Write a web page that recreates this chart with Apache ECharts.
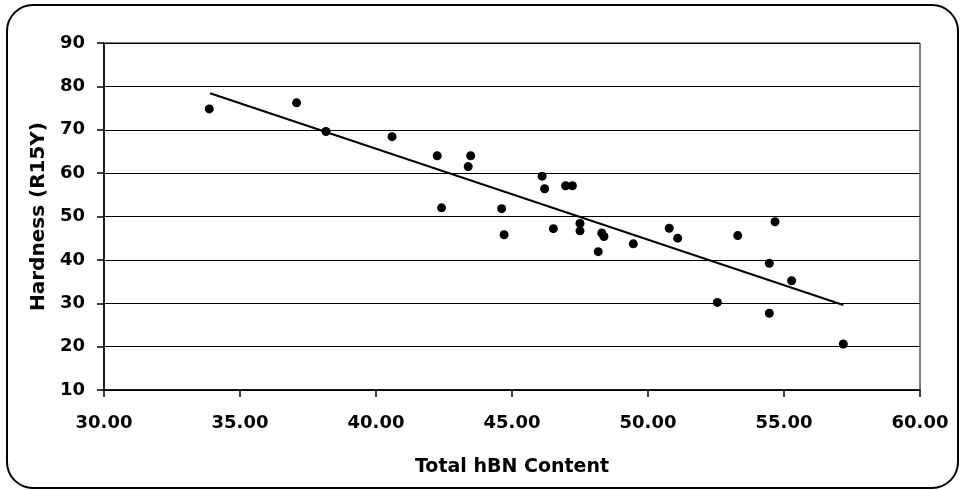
<!DOCTYPE html>
<html>
<head>
<meta charset="utf-8">
<script src="https://cdn.jsdelivr.net/npm/echarts@6/dist/echarts.min.js"></script>
<style>
  html, body { margin: 0; padding: 0; background: #fff; }
  #chart { width: 964px; height: 490px; }
</style>
</head>
<body>
<div id="chart"></div>
<script>
// Measured samples: total hBN content vs. hardness (R15Y)
const hbnContent = [33.87, 37.08, 38.16, 40.59, 42.25, 42.41, 43.48, 43.39, 44.62, 44.71,
                    46.11, 46.20, 46.97, 47.22, 46.52, 47.50, 47.50, 48.30, 48.38, 48.17,
                    49.46, 50.78, 51.09, 53.30, 54.67, 54.46, 55.28, 52.55, 54.46, 57.18];
const hardness   = [74.8, 76.2, 69.6, 68.4, 64.0, 52.0, 64.0, 61.5, 51.8, 45.8,
                    59.3, 56.4, 57.1, 57.1, 47.2, 48.4, 46.7, 46.2, 45.4, 41.9,
                    43.7, 47.3, 45.0, 45.6, 48.8, 39.2, 35.2, 30.2, 27.7, 20.6];

// Linear trend line end points
const trendX = [33.90, 57.18];
const trendY = [78.4, 29.6];

// Axis ranges
const xRange = { min: 30, max: 60, step: 5 };
const yRange = { min: 10, max: 90, step: 10 };

const FONT = 'DejaVu Sans';

const points = hbnContent.map((x, i) => [x, hardness[i]]);
const trend = trendX.map((x, i) => [x, trendY[i]]);

const chart = echarts.init(document.getElementById('chart'), null, { renderer: 'canvas' });

chart.setOption({
  backgroundColor: '#ffffff',
  animation: false,
  graphic: [{
    type: 'rect',
    shape: { x: 7, y: 5, width: 951, height: 483, r: 26 },
    style: { fill: 'none', stroke: '#000', lineWidth: 2 },
    silent: true
  }],
  grid: {
    left: 104, right: 44, top: 43, bottom: 100,
    show: true, borderColor: '#000', borderWidth: 1, backgroundColor: 'transparent'
  },
  xAxis: {
    type: 'value',
    min: xRange.min, max: xRange.max, interval: xRange.step,
    name: 'Total hBN Content',
    nameLocation: 'middle',
    nameGap: 68,
    nameTextStyle: { fontFamily: FONT, fontWeight: 'bold', fontSize: 19, color: '#000' },
    axisLine: { show: true, lineStyle: { color: '#000', width: 1.5 } },
    axisTick: { show: true, length: 7, lineStyle: { color: '#000', width: 1.5 } },
    axisLabel: {
      margin: 24,
      fontFamily: FONT, fontWeight: 'bold', fontSize: 18, color: '#000',
      formatter: v => v.toFixed(2)
    },
    splitLine: { show: false }
  },
  yAxis: {
    type: 'value',
    min: yRange.min, max: yRange.max, interval: yRange.step,
    name: 'Hardness (R15Y)',
    nameLocation: 'middle',
    nameGap: 48,
    nameTextStyle: { fontFamily: FONT, fontWeight: 'bold', fontSize: 20, color: '#000' },
    axisLine: { show: true, lineStyle: { color: '#000', width: 1.5 } },
    axisTick: { show: true, length: 7, lineStyle: { color: '#000', width: 1.5 } },
    axisLabel: { margin: 19, fontFamily: FONT, fontWeight: 'bold', fontSize: 18, color: '#000' },
    splitLine: { show: true, lineStyle: { color: '#000', width: 1.2 } }
  },
  series: [
    {
      name: 'Hardness',
      type: 'scatter',
      data: points,
      symbol: 'circle',
      symbolSize: 9,
      itemStyle: { color: '#000', opacity: 1 },
      z: 3
    },
    {
      name: 'Trend',
      type: 'line',
      data: trend,
      showSymbol: false,
      symbol: 'none',
      lineStyle: { color: '#000', width: 2 },
      z: 2
    }
  ]
});
</script>
</body>
</html>
